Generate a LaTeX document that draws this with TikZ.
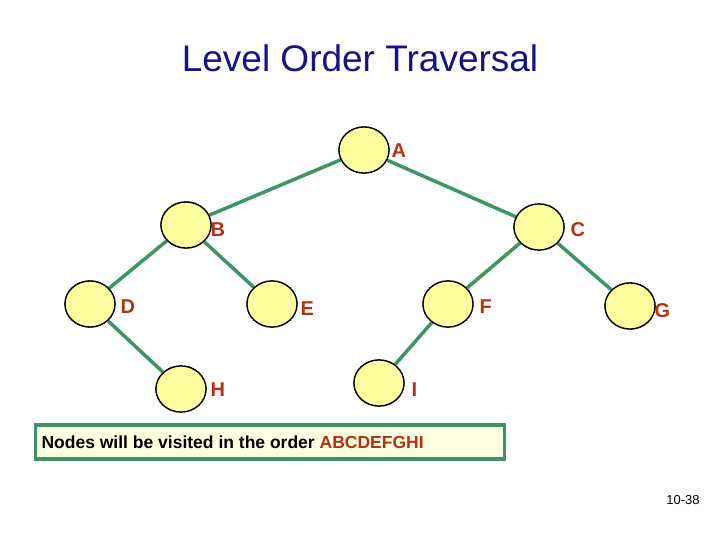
\documentclass[tikz,border=0pt]{standalone}
\usepackage{fontspec}
\setmainfont{Liberation Sans}
\usetikzlibrary{shapes.geometric}
\definecolor{edgeg}{RGB}{60,150,100}
\definecolor{fillY}{RGB}{255,255,160}
\definecolor{lab}{RGB}{180,50,20}
\definecolor{navy}{RGB}{20,20,130}
\definecolor{boxfill}{RGB}{255,255,225}
\begin{document}
\begin{tikzpicture}[x=1pt,y=-1pt,
  tn/.style={ellipse,draw=black,line width=1.3pt,fill=fillY,minimum width=50pt,minimum height=46pt,inner sep=0pt},
  lb/.style={text=lab,font=\fontsize{20}{20}\selectfont\bfseries,anchor=west},
  ed/.style={draw=edgeg,line width=3.5pt}]
\useasboundingbox (0,0) rectangle (720,540);
\node[text=navy,font=\fontsize{37}{37}\selectfont] (t) at (360,58) {Level Order Traversal};
\node[tn] (A) at (364,150) {};
\node[tn] (B) at (186,225) {};
\node[tn] (C) at (539,227) {};
\node[tn] (D) at (90,304) {};
\node[tn] (E) at (272,304) {};
\node[tn] (F) at (448,304) {};
\node[tn] (G) at (630,306) {};
\node[tn] (H) at (181,389) {};
\node[tn] (I) at (379,383) {};
\foreach \p/\c in {A/B,A/C,B/D,B/E,C/F,C/G,D/H,F/I}{\draw[ed] (\p) -- (\c);}
\foreach \n in {A,B,C,D,E,F,G,H,I}{\node[tn] at (\n) {};}
\node[lb] (la) at (388,151) {A};
\node[lb] (lb2) at (207,230) {B};
\node[lb] (lc) at (567,230) {C};
\node[lb] (ld) at (117,307) {D};
\node[lb] (le) at (297,309) {E};
\node[lb] (lf) at (476,307) {F};
\node[lb] (lg) at (651,311) {G};
\node[lb] (lh) at (207,390) {H};
\node[lb] (li) at (408,390) {I};
\node[draw=edgeg,line width=3.5pt,fill=boxfill,minimum width=469pt,minimum height=34pt,inner sep=0pt] (box) at (270,442) {};
\node[anchor=west,font=\fontsize{17.5}{17.5}\selectfont\bfseries] (bt) at (38,442) {Nodes will be visited in the order \textcolor{lab}{ABCDEFGHI}};
\node[font=\fontsize{13}{13}\selectfont] (pg) at (683,500) {10-38};
\end{tikzpicture}
\end{document}
